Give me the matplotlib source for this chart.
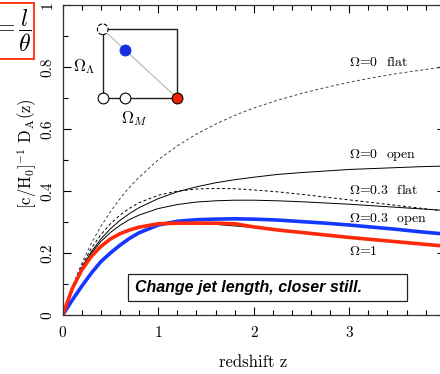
import matplotlib
matplotlib.use('Agg')
import matplotlib.pyplot as plt
from matplotlib.patches import Rectangle
from matplotlib.ticker import MultipleLocator

plt.rcParams['mathtext.fontset'] = 'cm'
plt.rcParams['font.family'] = ['cmr10', 'DejaVu Serif']
plt.rcParams['axes.unicode_minus'] = False

# values
z = [0, 0.1, 0.2, 0.3, 0.4, 0.5, 0.6, 0.7, 0.8, 1.0, 1.2, 1.4, 1.6, 1.8, 2.0,
     2.25, 2.5, 2.75, 3.0, 3.25, 3.5, 3.75, 4.0]
da_flat0 = [0, .091, .167, .231, .286, .333, .375, .412, .444, .500, .545, .583, .615,
            .643, .667, .692, .714, .733, .750, .765, .778, .789, .800]
da_open0 = [0, .087, .153, .204, .245, .278, .305, .327, .346, .375, .397, .413, .426,
            .436, .444, .453, .459, .464, .469, .472, .475, .478, .480]
da_flat03 = [0, .088, .159, .215, .259, .294, .322, .344, .362, .386, .399, .406, .408,
             .407, .403, .397, .389, .380, .371, .362, .353, .344, .335]
da_open03 = [0, .086, .150, .199, .237, .266, .289, .308, .322, .343, .356, .364, .368,
             .370, .370, .368, .365, .361, .357, .352, .347, .342, .337]
da_eds = [0, .085, .145, .189, .221, .245, .262, .274, .283, .293, .296, .295, .292,
          .287, .282, .274, .266, .258, .250, .242, .235, .228, .221]
da_red = [0, .085, .145, .189, .221, .245, .262, .274, .283, .294, .296, .296, .296,
          .294, .284, .274, .266, .258, .250, .243, .236, .229, .222]
da_blue = [0, .048, .093, .135, .172, .200, .225, .247, .265, .290, .302, .307, .309,
           .310, .309, .306, .301, .296, .290, .283, .276, .268, .261]

curve_labels = [r'$\Omega$=0  flat', r'$\Omega$=0  open', r'$\Omega$=0.3  flat',
                r'$\Omega$=0.3  open', r'$\Omega$=1']
label_y = [0.814, 0.516, 0.403, 0.31, 0.204]
ytick_vals = [0, 0.2, 0.4, 0.6, 0.8, 1.0]
ytick_labels = ['0', '0.2', '0.4', '0.6', '0.8', '1']
xtick_vals = [0, 1, 2, 3]
note = 'Change jet length, closer still.'

# inset: (Omega_M, Omega_Lambda) points
om_open = [0, 0.3]
ol_open = [0, 0]

W, H = 440, 374
fig = plt.figure(figsize=(4.4, 3.74), dpi=100)
ax = fig.add_axes([62.7 / W, 59 / H, 382 / W, 310.3 / H])

ax.plot(z, da_flat0, color='#444444', lw=0.7, ls=(0, (3, 2.5)))
ax.plot(z, da_open0, color='black', lw=0.7)
ax.plot(z, da_flat03, color='black', lw=0.7, ls=(0, (3, 2.5)))
ax.plot(z, da_open03, color='black', lw=0.7)
ax.plot(z, da_eds, color='black', lw=0.7)
ax.plot(z, da_blue, color='#1438ff', lw=2.6)
ax.plot(z, da_red, color='#ff2a0a', lw=2.6)

for lab, yv in zip(curve_labels, label_y):
    ax.text(3.0, yv, lab, fontsize=10, ha='left', va='center')

ax.add_patch(Rectangle((0.684, 0.045), 2.921, 0.087, fc='white', ec='#222222', lw=0.9,
                       zorder=4))
ax.text(0.757, 0.0887, note, fontsize=11.5, family='Liberation Sans', weight='bold',
        style='italic', ha='left', va='center', zorder=5)

ax.set_xlim(0, 4)
ax.set_ylim(0, 1)
ax.set_xticks(xtick_vals)
ax.set_yticks(ytick_vals)
ax.set_yticklabels(ytick_labels)
ax.xaxis.set_minor_locator(MultipleLocator(0.2))
ax.yaxis.set_minor_locator(MultipleLocator(0.1))
ax.tick_params(which='both', direction='in', top=True, right=True, width=0.8)
ax.tick_params(which='major', length=6, labelsize=11)
ax.tick_params(axis='x', which='major', pad=8)
ax.tick_params(axis='y', which='major', pad=6, labelrotation=90)
ax.tick_params(which='minor', length=3.5)
for lab in ax.get_yticklabels():
    lab.set_va('center')
for s in ax.spines.values():
    s.set_linewidth(0.9)
    s.set_color('#333333')

ax.set_xlabel('redshift z', fontsize=12, va='center')
ax.xaxis.set_label_coords(0.498, -0.151)
ax.set_ylabel(r'$[\mathrm{c/H_0}]^{-1}\ \mathrm{D_A(z)}$', fontsize=12, labelpad=1)
ax.yaxis.label.set_y(0.52)

# inset diagram
x0, x1 = 102.7, 177.3
y0, y1 = 98.3, 29.3
ins = fig.add_axes([(x0 - 10) / W, (H - y0 - 10) / H, (x1 - x0 + 20) / W, (y0 - y1 + 20) / H])
ins.set_xlim(-10 / (x1 - x0), 1 + 10 / (x1 - x0))
ins.set_ylim(-10 / (y0 - y1), 1 + 10 / (y0 - y1))
ins.axis('off')
ins.plot([0, 1, 1, 0, 0], [1, 1, 0, 0, 1], color='#222222', lw=1.0, zorder=1)
ins.plot([0, 1], [1, 0], color='#bbbbbb', lw=0.9, zorder=1)
ins.scatter(om_open, ol_open, s=60, facecolor='white', edgecolor='black', lw=0.8, zorder=3)
ins.scatter([0], [1], s=60, facecolor='white', edgecolor='black', lw=0.8,
            linestyle='--', zorder=3)
ins.scatter([0.3], [0.7], s=60, facecolor='#1530e0', edgecolor='#1530e0', lw=0.8, zorder=3)
ins.scatter([1], [0], s=60, facecolor='#ee2200', edgecolor='black', lw=0.8, zorder=3)
fig.text(84 / W, 1 - 67 / H, r'$\Omega_{\Lambda}$', fontsize=12, ha='center', va='center')
fig.text(134 / W, 1 - 119 / H, r'$\Omega_{M}$', fontsize=12, ha='center', va='center')

# cropped formula box at the top left
fig.add_artist(Rectangle((-10 / W, 1 - 59 / H), 44 / W, 56 / H, transform=fig.transFigure,
                         fill=False, ec='#ff3a1a', lw=1.4))
fig.text(32 / W, 1 - 31 / H, r'$=\dfrac{l}{\theta}$', fontsize=17, ha='right', va='center')

fig.savefig('out.png', dpi=100)
